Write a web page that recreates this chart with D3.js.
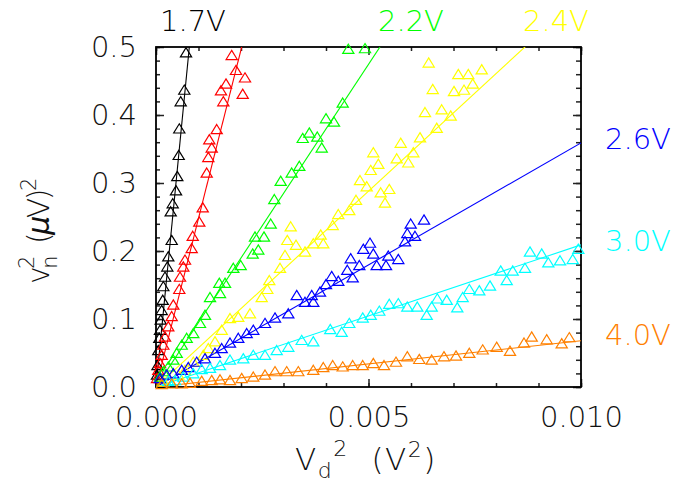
<!DOCTYPE html>
<html><head><meta charset="utf-8">
<script src="https://cdn.jsdelivr.net/npm/d3@7"></script>
<style>
body{margin:0;background:#fff}
svg{display:block}
text{font-family:"DejaVu Sans",sans-serif;font-weight:200}
</style>
</head><body>
<svg id="chart" width="700" height="487"></svg>
<script>
// ---- data ----
const seriesNames = ["1.7V", "2.0V", "2.2V", "2.4V", "2.6V", "3.0V", "4.0V"];
const seriesColors = ["#000000", "#ff0000", "#00ff00", "#ffff00", "#0000ff", "#00ffff", "#ff8000"];
const showLabel = [true, false, true, true, true, true, true];
const fitSlopes = [638, 248, 94.9, 57.6, 35.9, 20.9, 6.8];

const x17 = [0.000706,0.000666,0.000581,0.000548,0.000534,0.000501,0.000471,0.000393,0.000346,0.000369,0.000289,0.000266,0.000212,0.000172,0.000158,0.000134,0.000111,0.000094,0.000078,0.000054,0.000035,0.000024];
const y17 = [0.492,0.437,0.420,0.380,0.341,0.310,0.289,0.270,0.258,0.216,0.192,0.177,0.162,0.148,0.128,0.113,0.099,0.084,0.072,0.054,0.032,0.018];

const x20 = [0.001781,0.001882,0.002094,0.001647,0.001529,0.002040,0.001584,0.001428,0.001254,0.001311,0.001231,0.001193,0.001099,0.001019,0.000864,0.000840,0.000682,0.000642,0.000565,0.000548,0.000407,0.000369,0.000289,0.000212,0.000172,0.000134,0.000094,0.000054,0.000024];
const y20 = [0.488,0.466,0.455,0.446,0.436,0.431,0.420,0.379,0.364,0.352,0.338,0.315,0.264,0.243,0.222,0.204,0.187,0.177,0.162,0.144,0.121,0.104,0.089,0.074,0.062,0.047,0.035,0.025,0.013];

const x22 = [0.004525,0.004918,0.004393,0.004000,0.004188,0.003607,0.003452,0.003795,0.003899,0.003372,0.003193,0.002934,0.002784,0.002699,0.002329,0.002541,0.002407,0.002275,0.001993,0.001819,0.001489,0.001624,0.001271,0.001506,0.001153,0.001035,0.000878,0.000722,0.000605,0.000487,0.000407,0.000289,0.000172,0.000094];
const y22 = [0.497,0.498,0.418,0.395,0.390,0.374,0.366,0.368,0.352,0.325,0.315,0.303,0.276,0.240,0.221,0.221,0.202,0.196,0.179,0.175,0.153,0.153,0.132,0.138,0.106,0.094,0.079,0.072,0.062,0.050,0.040,0.030,0.023,0.015];

const x24 = [0.006416,0.007113,0.007348,0.007664,0.006511,0.007012,0.007247,0.007452,0.006329,0.006722,0.006934,0.006605,0.006212,0.005758,0.006054,0.005664,0.005936,0.005113,0.005231,0.005052,0.004800,0.004958,0.005287,0.005489,0.005388,0.004706,0.004548,0.004289,0.004158,0.003169,0.003089,0.003294,0.003506,0.003701,0.003936,0.003875,0.003035,0.002918,0.002666,0.002619,0.002487,0.002212,0.001936,0.001741,0.001546,0.001388,0.001231,0.001113,0.000878,0.000682,0.000525,0.000329,0.000172];
const y24 = [0.477,0.460,0.460,0.467,0.438,0.435,0.437,0.446,0.404,0.408,0.399,0.381,0.367,0.359,0.345,0.336,0.330,0.345,0.328,0.319,0.304,0.295,0.286,0.291,0.271,0.275,0.260,0.254,0.238,0.236,0.216,0.209,0.199,0.211,0.211,0.224,0.194,0.175,0.157,0.144,0.132,0.108,0.103,0.101,0.084,0.067,0.057,0.047,0.037,0.025,0.018,0.010,0.008];

const x26 = [0.006306,0.005993,0.005913,0.006094,0.005859,0.005035,0.004878,0.005113,0.005466,0.005701,0.004581,0.004784,0.005193,0.005412,0.004501,0.004628,0.004289,0.004134,0.004000,0.003859,0.003664,0.003311,0.003701,0.003506,0.003113,0.002800,0.002565,0.002289,0.002134,0.001936,0.001741,0.001546,0.001388,0.001153,0.000958,0.000760,0.000605,0.000407,0.000252,0.000094];
const y26 = [0.246,0.240,0.226,0.222,0.214,0.212,0.203,0.196,0.193,0.188,0.189,0.179,0.179,0.179,0.172,0.161,0.156,0.163,0.151,0.140,0.135,0.135,0.125,0.125,0.108,0.102,0.094,0.084,0.079,0.072,0.065,0.057,0.050,0.042,0.037,0.029,0.025,0.020,0.018,0.013];

const x30 = [0.009936,0.009805,0.009506,0.009231,0.009075,0.008800,0.008682,0.008393,0.008252,0.008111,0.007859,0.007607,0.007372,0.007216,0.007089,0.006840,0.006619,0.006487,0.006369,0.006148,0.005913,0.005701,0.005489,0.005254,0.005052,0.004864,0.004548,0.004369,0.004100,0.003701,0.003428,0.003113,0.002840,0.002565,0.002289,0.002054,0.001741,0.001506,0.001271,0.001075,0.000878,0.000642,0.000447,0.000289];
const y30 = [0.203,0.188,0.186,0.183,0.196,0.199,0.175,0.171,0.157,0.171,0.149,0.142,0.144,0.132,0.117,0.128,0.130,0.118,0.106,0.118,0.118,0.123,0.122,0.112,0.106,0.102,0.094,0.081,0.085,0.067,0.069,0.059,0.054,0.047,0.047,0.042,0.040,0.032,0.028,0.026,0.020,0.015,0.010,0.009];

const x40 = [0.009725,0.009546,0.009193,0.008840,0.008659,0.008329,0.008016,0.007687,0.007372,0.007059,0.006776,0.006487,0.006195,0.005913,0.005647,0.005365,0.005113,0.004864,0.004628,0.004393,0.004158,0.003936,0.003701,0.003348,0.003075,0.002800,0.002565,0.002289,0.002016,0.001741,0.001506,0.001311,0.001075,0.000800,0.000605,0.000369,0.000134];
const y40 = [0.073,0.064,0.070,0.074,0.065,0.053,0.059,0.055,0.050,0.046,0.045,0.040,0.041,0.045,0.037,0.032,0.035,0.032,0.032,0.030,0.032,0.029,0.025,0.023,0.023,0.023,0.018,0.015,0.013,0.010,0.011,0.010,0.009,0.006,0.005,0.005,0.004];

const seriesX = [x17, x20, x22, x24, x26, x30, x40];
const seriesY = [y17, y20, y22, y24, y26, y30, y40];

const xDomain = [0, 0.010];
const yDomain = [0, 0.5];
const xTickValues = [0, 0.005, 0.010];
const yTickValues = [0, 0.1, 0.2, 0.3, 0.4, 0.5];

// ---- drawing ----
const svg = d3.select("#chart");
const L = 156, R = 581, T = 47, B = 387;
const x = d3.scaleLinear().domain(xDomain).range([L, R]);
const y = d3.scaleLinear().domain(yDomain).range([B, T]);

svg.append("defs").append("clipPath").attr("id", "clip")
  .append("rect").attr("x", L).attr("y", T).attr("width", R - L).attr("height", B - T);

function styleAxis(g, labels) {
  g.select(".domain").remove();
  g.selectAll(".tick line").attr("stroke", "#222").attr("stroke-width", 1.5);
  g.selectAll(".tick text").attr("fill", "#111")
    .style("font-size", "29px").style("font-family", "'DejaVu Sans',sans-serif").style("font-weight", 200);
  if (!labels) g.selectAll(".tick text").remove();
}

// minor ticks
const xMinor = x.ticks(10);
const yMinor = y.ticks(25);
svg.append("g").attr("transform", `translate(0,${B})`)
  .call(d3.axisBottom(x).tickValues(xMinor).tickSize(-4).tickSizeOuter(0).tickFormat(""))
  .call(g => styleAxis(g, false));
svg.append("g").attr("transform", `translate(0,${T})`)
  .call(d3.axisTop(x).tickValues(xMinor).tickSize(-4).tickSizeOuter(0).tickFormat(""))
  .call(g => styleAxis(g, false));
svg.append("g").attr("transform", `translate(${L},0)`)
  .call(d3.axisLeft(y).tickValues(yMinor).tickSize(-4).tickSizeOuter(0).tickFormat(""))
  .call(g => styleAxis(g, false));
svg.append("g").attr("transform", `translate(${R},0)`)
  .call(d3.axisRight(y).tickValues(yMinor).tickSize(-5).tickSizeOuter(0).tickFormat(""))
  .call(g => styleAxis(g, false));

// major ticks + labels
svg.append("g").attr("transform", `translate(0,${B})`)
  .call(d3.axisBottom(x).tickValues(xTickValues).tickSize(-8).tickSizeOuter(0).tickPadding(19).tickFormat(d3.format(".3f")))
  .call(g => styleAxis(g, true));
svg.append("g").attr("transform", `translate(0,${T})`)
  .call(d3.axisTop(x).tickValues(xTickValues).tickSize(-8).tickSizeOuter(0).tickFormat(""))
  .call(g => styleAxis(g, false));
svg.append("g").attr("transform", `translate(${L},0)`)
  .call(d3.axisLeft(y).tickValues(yTickValues).tickSize(-8).tickSizeOuter(0).tickPadding(19).tickFormat(d3.format(".1f")))
  .call(g => styleAxis(g, true));
svg.append("g").attr("transform", `translate(${R},0)`)
  .call(d3.axisRight(y).tickValues(yTickValues).tickSize(-8).tickSizeOuter(0).tickFormat(""))
  .call(g => styleAxis(g, false));

// frame
svg.append("rect").attr("x", L).attr("y", T).attr("width", R - L).attr("height", B - T)
  .attr("fill", "none").attr("stroke", "#000").attr("stroke-width", 1.8);

// fit lines
const lineG = svg.append("g").attr("clip-path", "url(#clip)");
fitSlopes.forEach((s, i) => {
  lineG.append("line")
    .attr("x1", x(0)).attr("y1", y(0))
    .attr("x2", x(xDomain[1])).attr("y2", y(s * xDomain[1]))
    .attr("stroke", seriesColors[i]).attr("stroke-width", 1.1);
});

// markers (open triangles)
const tri = "M0,-4.8L5.6,4.4L-5.6,4.4Z";
seriesX.forEach((xs, i) => {
  const pts = xs.map((v, j) => [v, seriesY[i][j]]);
  svg.append("g").selectAll("path").data(pts).join("path")
    .attr("d", tri)
    .attr("transform", d => `translate(${x(d[0])},${y(d[1])})`)
    .attr("fill", "none").attr("stroke", seriesColors[i]).attr("stroke-width", 1.2);
});

// series labels
const labelPos = [[160, 31], null, [378, 31], [523, 31], [605, 149], [605, 251], [605, 345]];
seriesNames.forEach((n, i) => {
  if (!showLabel[i]) return;
  const p = labelPos[i];
  svg.append("text").attr("x", p[0]).attr("y", p[1]).attr("text-anchor", "start")
    .attr("fill", seriesColors[i]).style("font-size", "29px").text(n);
});

// axis titles
const xt = svg.append("text").attr("x", 295).attr("y", 470).attr("text-anchor", "start")
  .attr("fill", "#111").style("font-size", "31px").style("letter-spacing", "1.5px").style("white-space", "pre");
xt.append("tspan").text("V");
xt.append("tspan").attr("dy", 8).style("font-size", "22px").text("d");
xt.append("tspan").attr("dx", 0).attr("dy", -22).style("font-size", "22px").text("2");
xt.append("tspan").attr("dy", 14).text("  (V");
xt.append("tspan").attr("dy", -13).style("font-size", "22px").text("2");
xt.append("tspan").attr("dy", 13).text(")");

const yt = svg.append("text").attr("transform", "translate(49,284) rotate(-90)").attr("text-anchor", "start")
  .attr("fill", "#111").style("font-size", "30px").style("letter-spacing", "-2.5px").style("white-space", "pre");
yt.append("tspan").text("v");
yt.append("tspan").attr("dy", 8).style("font-size", "21px").text("n");
yt.append("tspan").attr("dx", -11).attr("dy", -23).style("font-size", "21px").text("2");
yt.append("tspan").attr("dy", 15).text("  (");
yt.append("tspan").style("font-style", "italic").text("μ");
yt.append("tspan").text("V)");
yt.append("tspan").attr("dy", -13).style("font-size", "21px").text("2");
</script>
</body></html>
